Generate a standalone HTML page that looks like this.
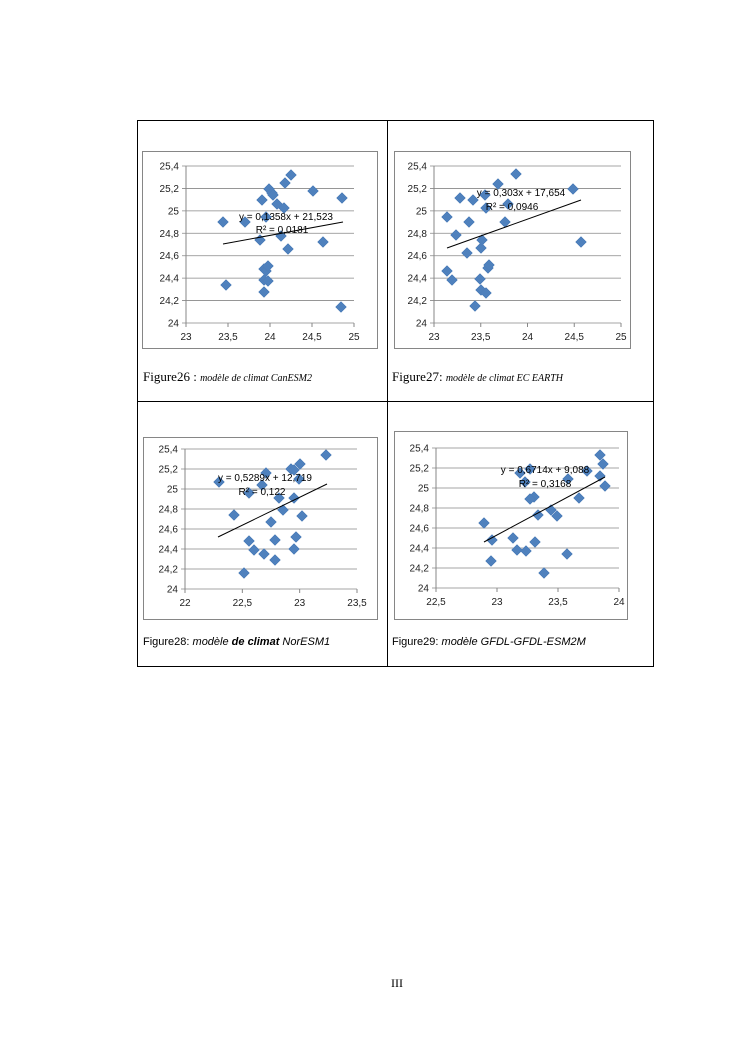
<!DOCTYPE html>
<html><head><meta charset="utf-8"><style>
body{margin:0;background:#fff;}
svg{display:block}
</style></head><body>
<svg id="s" width="745" height="1053" xmlns="http://www.w3.org/2000/svg" font-family="Liberation Sans, sans-serif">
<rect x="137.5" y="120.5" width="516" height="546" fill="none" stroke="#000" stroke-width="1"/>
<line x1="387.5" y1="120" x2="387.5" y2="667" stroke="#000"/>
<line x1="137" y1="401.5" x2="654" y2="401.5" stroke="#000"/>
<text x="397" y="987" font-family="Liberation Serif, serif" font-size="12" text-anchor="middle">III</text>
<text x="143" y="381" font-family="Liberation Serif, serif" font-size="13">Figure26 : <tspan font-style="italic" font-size="10">modèle de climat CanESM2</tspan></text>
<text x="392" y="381" font-family="Liberation Serif, serif" font-size="13">Figure27: <tspan font-style="italic" font-size="10">modèle de climat EC EARTH</tspan></text>
<text x="143" y="645" font-size="11">Figure28: <tspan font-style="italic">modèle </tspan><tspan font-style="italic" font-weight="bold">de climat</tspan><tspan font-style="italic"> NorESM1</tspan></text>
<text x="392" y="645" font-size="11">Figure29: <tspan font-style="italic">modèle GFDL-GFDL-ESM2M</tspan></text>
</svg>
<script>
var s=document.getElementById('s'),h='';
function chart(f,ax,pts,ln,eq){
 h+='<rect x="'+f[0]+'.5" y="'+f[1]+'.5" width="'+(f[2]-f[0])+'" height="'+(f[3]-f[1])+'" fill="#fff" stroke="#868686"/>';
 var x0=ax.x0,x1=ax.x1,yt=ax.yt,yb=ax.yb,n=7;
 for(var i=0;i<=n;i++){var y=yb-(yb-yt)*i/n;
  h+='<line x1="'+(x0-4)+'" x2="'+x1+'" y1="'+y+'" y2="'+y+'" stroke="'+(i?'#878787':'#878787')+'" stroke-width="0.8"/>';
  var v=(24+0.2*i).toFixed(1).replace('.',',').replace(',0','');if(i==0)v='24';if(i==5)v='25';
  h+='<text x="'+(x0-7)+'" y="'+(y+3.5)+'" font-size="10" text-anchor="end" fill="#222">'+v+'</text>';}
 h+='<line x1="'+x0+'" x2="'+x0+'" y1="'+yt+'" y2="'+yb+'" stroke="#878787"/>';
 var xl=ax.xl;for(var j=0;j<xl.length;j++){var x=x0+(x1-x0)*j/(xl.length-1);
  h+='<line x1="'+x+'" x2="'+x+'" y1="'+yb+'" y2="'+(yb+4)+'" stroke="#878787"/>';
  h+='<text x="'+x+'" y="'+(yb+17)+'" font-size="10" text-anchor="middle" fill="#222">'+xl[j]+'</text>';}
 pts.forEach(function(p){h+='<path d="M'+p[0]+' '+(p[1]-5.5)+'L'+(p[0]+5.5)+' '+p[1]+'L'+p[0]+' '+(p[1]+5.5)+'L'+(p[0]-5.5)+' '+p[1]+'Z" fill="#4f81bd" stroke="#4a7ab5" stroke-width="0.5"/>';});
 h+='<line x1="'+ln[0]+'" y1="'+ln[1]+'" x2="'+ln[2]+'" y2="'+ln[3]+'" stroke="#000" stroke-width="1"/>';
 h+='<text x="'+eq[0]+'" y="'+eq[1]+'" font-size="10" text-anchor="middle">'+eq[2]+'</text>';
 h+='<text x="'+eq[3]+'" y="'+eq[4]+'" font-size="10" text-anchor="middle">R² = '+eq[5]+'</text>';
}
chart([142,151,377,348],{x0:186,x1:354,yt:166,yb:323,xl:['23','23,5','24','24,5','25']},
[[223,222],[226,285],[245,222],[262,200],[260,240],[264,269],[264,280],[264,292],[266,271],[268,266],[268,281],[269,189],[272,193],[273,195],[266,217],[277,204],[284,208],[281,236],[285,183],[291,175],[288,249],[313,191],[323,242],[342,198],[341,307]],
[223,244,343,222],[286,220,'y = 0,1358x + 21,523',282,233,'0,0181']);
chart([394,151,630,348],{x0:434,x1:621,yt:166,yb:323,xl:['23','23,5','24','24,5','25']},
[[447,217],[447,271],[452,280],[456,235],[460,198],[467,253],[469,222],[473,200],[475,306],[480,279],[481,248],[482,240],[481,290],[485,195],[486,208],[486,293],[488,268],[489,265],[498,184],[505,222],[508,204],[516,174],[573,189],[581,242]],
[447,248,581,200],[521,196,'y = 0,303x + 17,654',512,210,'0,0946']);
chart([143,437,377,619],{x0:185,x1:357,yt:449,yb:589,xl:['22','22,5','23','23,5']},
[[219,482],[234,515],[249,493],[249,541],[254,550],[244,573],[262,485],[266,473],[264,554],[271,522],[275,560],[275,540],[279,498],[283,510],[291,469],[294,470],[294,498],[294,549],[296,537],[300,464],[299,479],[302,516],[326,455]],
[218,537,327,484],[265,481,'y = 0,5289x + 12,719',262,495,'0,122']);
chart([394,431,627,619],{x0:436,x1:619,yt:448,yb:588,xl:['22,5','23','23,5','24']},
[[484,523],[492,540],[491,561],[513,538],[517,550],[526,551],[535,542],[538,515],[534,497],[530,499],[525,482],[520,473],[530,469],[544,573],[551,510],[557,516],[567,554],[568,479],[579,498],[587,471],[600,455],[603,464],[600,476],[605,486]],
[484,542,605,477],[545,473,'y = 0,6714x + 9,088',545,487,'0,3168']);
s.insertAdjacentHTML('beforeend',h);
</script>
</body></html>
